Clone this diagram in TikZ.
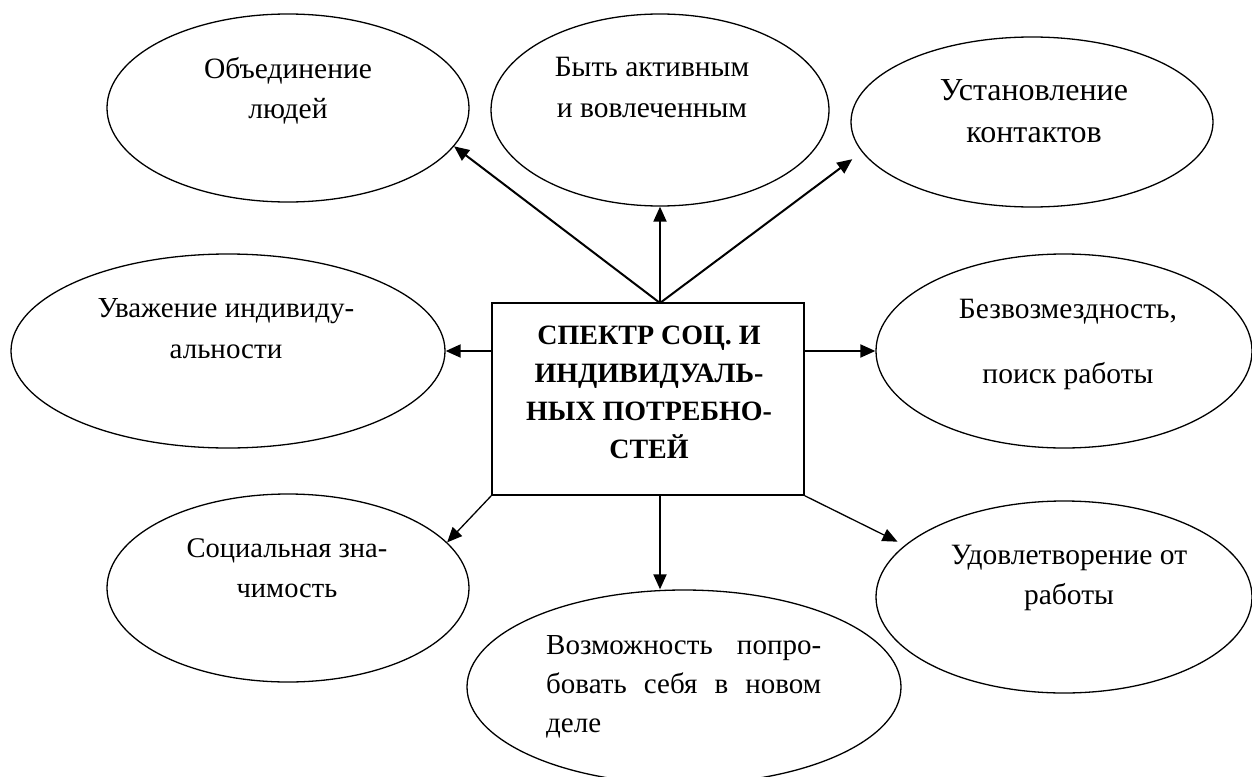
\documentclass[tikz,border=0pt]{standalone}
\usepackage{fontspec}
\setmainfont{Liberation Serif}
\newfontfamily\tnr{Liberation Serif}
\usetikzlibrary{shapes.geometric,arrows.meta,calc}
\begin{document}
\begin{tikzpicture}[x=1pt,y=-1pt,
  oval/.style={draw,ellipse,line width=1.3pt,inner sep=0pt},
  lbl/.style={anchor=base,align=center,inner sep=0pt,font=\tnr\fontsize{29.5}{40}\selectfont},
  arr/.style={-{Triangle[length=15pt,width=13pt]},line width=2pt},
  arrthin/.style={-{Triangle[length=15pt,width=13pt]},line width=1.3pt}]
\useasboundingbox (0,0) rectangle (1252,776);
\clip (0,0) rectangle (1252,776);
% ellipses
\node[oval,minimum width=362pt,minimum height=188pt] (e1) at (288,108) {};
\node[oval,minimum width=338pt,minimum height=192pt] (e2) at (660,110) {};
\node[oval,minimum width=362pt,minimum height=170pt] (e3) at (1032,122) {};
\node[oval,minimum width=434pt,minimum height=194pt] (e4) at (228,351) {};
\node[oval,minimum width=376pt,minimum height=194pt] (e5) at (1064,351) {};
\node[oval,minimum width=376pt,minimum height=192pt] (e6) at (1064,597) {};
\node[oval,minimum width=362pt,minimum height=188pt] (e7) at (288,588) {};
\node[oval,minimum width=434pt,minimum height=194pt] (e8) at (684,687) {};
% central box
\node[draw,line width=1.5pt,minimum width=312pt,minimum height=192pt,inner sep=0pt] (box) at (648,399) {};
% texts (anchor base = baseline of last line)
\node[lbl] (t1) at (288,118) {Объединение\\людей};
\node[lbl] (t2) at (652,117) {Быть активным\\и вовлеченным};
\node[lbl,font=\tnr\fontsize{32}{42}\selectfont] (t3) at (1034,142) {Установление\\контактов};
\node[lbl,font=\tnr\fontsize{29}{41}\selectfont] (t4) at (226,358) {Уважение индивиду-\\альности};
\node[lbl,font=\tnr\fontsize{28}{38}\selectfont\bfseries] (t0) at (649,458) {СПЕКТР СОЦ. И\\ИНДИВИДУАЛЬ-\\НЫХ ПОТРЕБНО-\\СТЕЙ};
\node[lbl,font=\tnr\fontsize{29.5}{65}\selectfont] (t5) at (1068,383) {Безвозмездность,\\поиск работы};
\node[lbl,font=\tnr\fontsize{28.5}{40}\selectfont] (t7) at (287,597) {Социальная зна-\\чимость};
\node[lbl,anchor=base west,align=left,text width=275pt,font=\tnr\fontsize{29}{39}\selectfont] (t8) at (546,654) {Возможность\hfill попро-\\бовать\hfill себя\hfill в\hfill новом\\деле};
\node[lbl] (t6) at (1069,604) {Удовлетворение от\\работы};
% connectors
\coordinate (apex) at (660,303);
\coordinate (bot) at (660,495);
\draw[arr] (apex) -- (e1.-13);
\draw[arr] (apex) -- (e2.south);
\draw[arr,shorten >=12pt] (apex) -- (e3.190);
\draw[arr] (box.west |- e4.east) -- (e4.east);
\draw[arr] (box.east |- e5.west) -- (e5.west);
\draw[arrthin] (box.south west) -- (e7.16);
\draw[arr] (bot) -- (bot |- e8.north);
\draw[arrthin,shorten >=8pt] (box.south east) -- (e6.162);
\end{tikzpicture}
\end{document}
